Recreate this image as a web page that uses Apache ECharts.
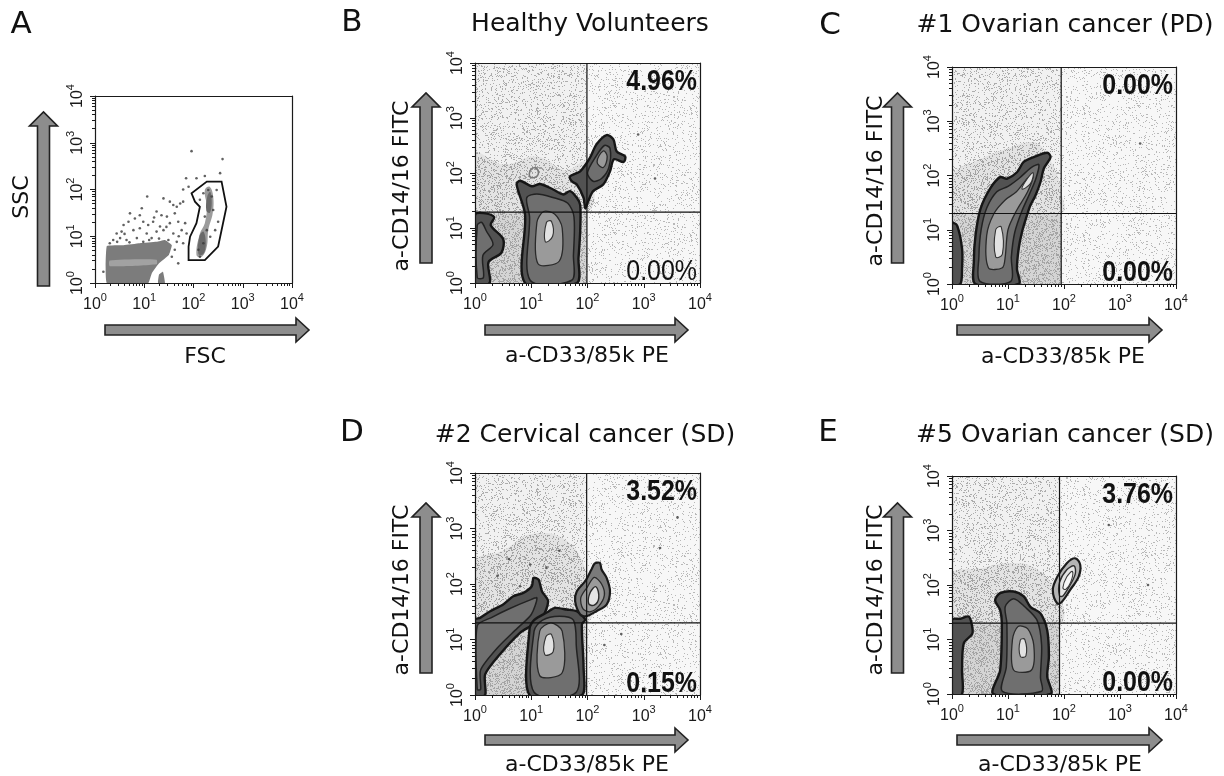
<!DOCTYPE html>
<html><head><meta charset="utf-8">
<script src="https://cdn.jsdelivr.net/npm/echarts@6/dist/echarts.min.js"></script>
<style>html,body{margin:0;padding:0;background:#fff}#c{width:1224px;height:776px}</style>
</head><body><div id="c"></div>
<script>
// All positions below are in log10 units (decades): 0 = 10^0 ... 4 = 10^4
const decades = [0, 1, 2, 3, 4];

// ---------- Panel A : FSC / SSC ----------
const A_cluster = [[0.24,0],[0.24,0.79],[0.58,0.81],[0.91,0.85],[1.25,0.88],[1.42,0.92],[1.56,0.81],[1.5,0.6],[1.3,0.42],[1.15,0.2],[1.08,0]];
const A_clusterBit = [[1.28,0],[1.3,0.18],[1.38,0.24],[1.42,0]];
const A_clusterBand = [[0.3,0.36],[1.25,0.4],[1.25,0.5],[0.3,0.48]];
const A_gate = [[1.90,0.49],[2.23,0.49],[2.50,0.78],[2.67,1.63],[2.57,2.17],[2.27,2.17],[1.96,1.92],[2.03,1.74],[2.13,1.63],[2.06,1.28],[1.93,0.99],[1.90,0.78]];
const A_gated = [[2.06,0.60],[2.13,1.06],[2.23,1.28],[2.27,1.63],[2.23,1.99],[2.33,2.06],[2.40,1.85],[2.39,1.49],[2.30,1.13],[2.27,0.78],[2.17,0.56]];
const A_gatedCore = [[2.10,0.62],[2.12,1.0],[2.2,1.1],[2.25,0.85],[2.2,0.62]];
const A_gatedCore2 = [[2.26,1.55],[2.28,1.85],[2.34,1.95],[2.37,1.7],[2.33,1.5]];
const A_dots = [[1.96,2.82],[2.59,2.65],[1.85,2.24],[2.06,2.24],[2.23,2.29],[2.54,2.35],[1.79,2.00],[1.90,2.06],[1.06,1.85],[1.39,1.81],[1.52,1.74],[1.59,1.67],[1.66,1.63],[1.73,1.70],[1.79,1.74],[0.71,1.49],[0.91,1.45],[0.81,1.38],[1.25,1.53],[1.35,1.45],[1.46,1.42],[1.62,1.49],[0.58,1.24],[0.68,1.31],[0.98,1.31],[1.08,1.24],[1.18,1.31],[1.32,1.21],[1.52,1.28],[1.69,1.31],[1.83,1.28],[0.44,1.06],[0.54,1.10],[0.78,1.13],[0.91,1.17],[1.05,1.06],[1.25,1.10],[1.39,1.13],[1.59,1.06],[1.76,1.13],[1.86,1.06],[0.37,0.92],[0.51,0.96],[0.64,0.92],[0.85,0.96],[0.98,0.88],[1.15,0.96],[1.49,0.92],[1.66,0.88],[1.79,0.85],[1.69,0.42],[1.56,0.56],[1.62,0.71],[0.17,0.24],[2.13,1.78],[2.30,1.99],[2.37,1.85],[2.23,1.42],[2.40,1.56],[2.27,1.13],[2.34,0.99],[2.20,0.85],[2.10,0.71],[2.47,1.99],[2.50,1.31],[2.20,1.92],[2.44,1.13],[2.13,0.56],[0.3,0.85],[0.45,0.88],[0.7,0.87],[1.1,0.92],[1.3,0.95],[1.7,1.0],[1.45,1.2],[1.2,1.4],[0.95,1.6],[0.6,1.05]];

// ---------- Panel B : Healthy Volunteers ----------
const B_quad = [1.99, 1.29];
const B_pct = ['4.96%', '0.00%'];
const B_cloud = [[0,1.29],[1.99,1.29],[1.99,2.2],[1.6,2.05],[1.1,2.3],[0.5,2.15],[0,2.35]];
const B_left = [[0,0],[0.26,0],[0.24,0.38],[0.47,0.55],[0.5,0.8],[0.28,1.05],[0.34,1.2],[0.15,1.27],[0,1.24]];
const B_leftIn = [[0.04,0.1],[0.15,0.1],[0.14,0.5],[0.32,0.7],[0.2,0.95],[0.12,1.1],[0.04,1.05]];
const B_main = [[0.89,0],[0.89,1.24],[0.74,1.79],[0.80,1.86],[1.01,1.76],[1.16,1.80],[1.39,1.70],[1.57,1.61],[1.69,1.67],[1.81,1.55],[1.87,1.42],[1.87,0.94],[1.84,0.45],[1.81,0]];
const B_mainMid = [[0.98,0.05],[0.97,1.2],[0.92,1.55],[1.1,1.62],[1.4,1.55],[1.65,1.45],[1.76,1.2],[1.75,0.5],[1.72,0.05]];
const B_mainIn = [[1.12,0.35],[1.1,1.1],[1.22,1.3],[1.42,1.25],[1.55,1.0],[1.5,0.4]];
const B_mainCore = [[1.25,0.75],[1.27,1.1],[1.36,1.12],[1.38,0.85]];
const B_up = [[1.69,1.94],[1.87,2.03],[2.04,2.27],[2.16,2.52],[2.34,2.69],[2.46,2.61],[2.52,2.39],[2.67,2.30],[2.64,2.2],[2.47,2.25],[2.40,2.03],[2.28,1.79],[2.10,1.67],[2.01,1.48],[1.96,1.36],[1.93,1.55],[1.81,1.79],[1.72,1.85]];
const B_upMid = [[2.0,2.0],[2.15,2.3],[2.3,2.5],[2.4,2.45],[2.38,2.1],[2.25,1.9],[2.1,1.85]];
const B_upIn = [[2.17,2.2],[2.28,2.4],[2.35,2.3],[2.28,2.1]];
const B_blob = [[0.98,1.93],[1.0,2.07],[1.1,2.08],[1.11,1.95]];
const B_dots = [[2.9,2.7],[3.2,1.9]];

// ---------- Panel C : #1 Ovarian cancer (PD) ----------
const C_quad = [1.95, 1.30];
const C_pct = ['0.00%', '0.00%'];
const C_cloud = [[0,1.3],[1.95,1.3],[1.95,1.7],[1.8,2.2],[1.5,2.6],[1.0,2.5],[0.5,2.3],[0,2.0]];
const C_left = [[0,0],[0.15,0],[0.18,0.3],[0.18,0.65],[0.09,1.08],[0,1.12]];
const C_main = [[0.42,0],[0.39,0.41],[0.42,0.90],[0.51,1.39],[0.68,1.76],[0.86,1.97],[0.98,1.94],[1.16,2.06],[1.28,2.25],[1.46,2.34],[1.70,2.42],[1.76,2.34],[1.64,2.13],[1.58,1.88],[1.49,1.63],[1.40,1.45],[1.34,1.27],[1.25,0.96],[1.19,0.65],[1.16,0.28],[1.19,0]];
const C_mainMid = [[0.5,0.05],[0.48,0.5],[0.52,1.0],[0.62,1.4],[0.8,1.7],[1.0,1.8],[1.2,1.95],[1.42,2.15],[1.55,2.2],[1.5,1.95],[1.38,1.65],[1.25,1.35],[1.12,0.95],[1.06,0.5],[1.05,0.05]];
const C_mainIn = [[0.65,0.3],[0.62,0.9],[0.75,1.3],[0.95,1.55],[1.15,1.7],[1.35,1.95],[1.45,2.0],[1.35,1.7],[1.15,1.35],[1.0,1.0],[0.95,0.5],[0.9,0.3]];
const C_core1 = [[0.78,0.5],[0.78,1.0],[0.88,1.05],[0.9,0.55]];
const C_core2 = [[1.25,1.75],[1.35,1.95],[1.45,2.05],[1.4,1.85]];
const C_dots = [[3.36,2.59]];

// ---------- Panel D : #2 Cervical cancer (SD) ----------
const D_quad = [1.985, 1.30];
const D_pct = ['3.52%', '0.15%'];
const D_cloud = [[0,1.3],[1.98,1.3],[1.98,2.2],[1.6,2.8],[1.0,2.9],[0.5,2.6],[0,2.4]];
const D_wedge = [[0,0],[0.18,0],[0.18,0.37],[0.44,0.73],[0.80,1.12],[1.0,1.25],[1.2,1.4],[1.3,1.69],[1.19,1.87],[1.13,2.08],[1.04,2.11],[1.01,1.96],[0.86,1.84],[0.68,1.78],[0.50,1.63],[0.27,1.51],[0.09,1.39],[0,1.36]];
const D_wedgeMid = [[0.04,0.1],[0.1,0.1],[0.1,0.45],[0.4,0.85],[0.75,1.2],[1.0,1.45],[1.1,1.75],[0.95,1.7],[0.6,1.55],[0.3,1.4],[0.04,1.25]];
const D_main = [[0.97,0],[0.97,1.2],[1.05,1.35],[1.3,1.5],[1.42,1.57],[1.63,1.54],[1.81,1.51],[1.96,1.36],[1.90,1.27],[1.93,0.49],[1.90,0]];
const D_mainMid = [[1.05,0.05],[1.05,1.15],[1.2,1.35],[1.5,1.42],[1.75,1.35],[1.8,0.9],[1.8,0.05]];
const D_mainIn = [[1.15,0.35],[1.15,1.15],[1.35,1.3],[1.55,1.15],[1.55,0.4]];
const D_mainCore = [[1.24,0.73],[1.26,1.05],[1.36,1.09],[1.39,0.78]];
const D_up = [[1.87,1.45],[1.78,1.69],[1.81,1.87],[1.96,2.05],[2.07,2.26],[2.13,2.37],[2.22,2.38],[2.25,2.26],[2.34,2.11],[2.40,1.87],[2.34,1.63],[2.16,1.51],[1.98,1.42]];
const D_upMid = [[1.92,1.55],[1.88,1.75],[2.0,1.95],[2.12,2.12],[2.25,2.0],[2.3,1.8],[2.2,1.6],[2.05,1.5]];
const D_upIn = [[2.02,1.65],[2.05,1.85],[2.15,1.95],[2.2,1.75],[2.12,1.62]];
const D_dots = [[0.98,2.35],[1.27,2.29],[0.80,1.96],[0.6,2.45],[1.5,2.6],[3.29,2.65],[3.6,3.2],[2.6,1.1],[2.3,0.9],[0.4,2.15]];

// ---------- Panel E : #5 Ovarian cancer (SD) ----------
const E_quad = [1.92, 1.30];
const E_pct = ['3.76%', '0.00%'];
const E_cloud = [[0,1.3],[1.92,1.3],[1.92,1.8],[1.5,2.3],[1.0,2.4],[0.5,2.3],[0,2.2]];
const E_left = [[0,0],[0.18,0],[0.18,0.44],[0.21,0.93],[0.36,1.1],[0.36,1.24],[0.3,1.42],[0.15,1.38],[0,1.36]];
const E_main = [[0.74,0],[0.86,0.44],[0.89,1.30],[0.86,1.54],[0.77,1.72],[0.86,1.85],[1.10,1.88],[1.28,1.79],[1.40,1.60],[1.58,1.48],[1.70,1.17],[1.73,0.69],[1.70,0.32],[1.76,0]];
const E_mainMid = [[0.9,0.05],[0.97,0.5],[0.98,1.3],[0.95,1.6],[1.1,1.75],[1.3,1.6],[1.52,1.35],[1.6,0.9],[1.58,0.3],[1.6,0.05]];
const E_mainIn = [[1.10,0.44],[1.08,1.0],[1.18,1.24],[1.35,1.2],[1.46,0.9],[1.42,0.44]];
const E_mainCore = [[1.22,0.69],[1.22,0.99],[1.3,1.0],[1.32,0.7]];
const E_up = [[1.88,1.66],[1.80,1.91],[1.88,2.15],[2.05,2.40],[2.20,2.49],[2.29,2.37],[2.26,2.15],[2.11,1.91],[1.96,1.69]];
const E_upMid = [[1.92,1.8],[1.92,2.05],[2.05,2.28],[2.18,2.35],[2.2,2.2],[2.08,1.95],[1.98,1.8]];
const E_upIn = [[1.98,1.95],[2.05,2.15],[2.15,2.25],[2.12,2.05],[2.03,1.92]];
const E_dots = [[3.5,2.0],[2.8,3.1]];

// ---------- text ----------
const letters = ['A','B','C','D','E'];
const titles = ['', 'Healthy Volunteers', '#1 Ovarian cancer (PD)', '#2 Cervical cancer (SD)', '#5 Ovarian cancer (SD)'];
const xNames = ['FSC', 'a-CD33/85k PE', 'a-CD33/85k PE', 'a-CD33/85k PE', 'a-CD33/85k PE'];
const yNames = ['SSC', 'a-CD14/16 FITC', 'a-CD14/16 FITC', 'a-CD14/16 FITC', 'a-CD14/16 FITC'];

// ======================= rendering ===========================
// deterministic speckle texture (style only, mimics the printed dot-plot background)
function hash(x, y) {
  let h = (Math.imul(x, 374761393) + Math.imul(y, 668265263)) | 0;
  h = Math.imul(h ^ (h >>> 13), 1274126177);
  return ((h ^ (h >>> 16)) >>> 0) / 4294967296;
}
function speckle(base, dot, density, seed) {
  const c = document.createElement('canvas'); c.width = 131; c.height = 127;
  const ctx = c.getContext('2d');
  ctx.fillStyle = base; ctx.fillRect(0, 0, c.width, c.height);
  ctx.fillStyle = dot;
  for (let y = 0; y < c.height; y++) for (let x = 0; x < c.width; x++)
    if (hash(x + seed, y + 3 * seed) < density) ctx.fillRect(x, y, 1, 1);
  return {image: c, repeat: 'repeat'};
}
const STY = {
  bg:    {fill: speckle('#f7f7f7', '#b8b8b8', 0.09, 11)},
  ul:    {fill: speckle('#f1f1f1', '#acacac', 0.15, 29)},
  cloud: {fill: speckle('#e3e3e3', '#a2a2a2', 0.25, 47)},
  ll:    {fill: speckle('#d4d4d4', '#a4a4a4', 0.32, 71)},
  outer: {fill:'#525252', stroke:'#161616', lineWidth:2.4},
  mid:   {fill:'#6f6f6f', stroke:'#222222', lineWidth:1.5},
  inner: {fill:'#9a9a9a', stroke:'#2a2a2a', lineWidth:1.3},
  core:  {fill:'#e2e2e2', stroke:'#333333', lineWidth:1.1},
  ring:  {fill:'none', stroke:'#7a7a7a', lineWidth:1.6},
  gOuter:{fill:'#7a7a7a', stroke:'#1a1a1a', lineWidth:2.2},
  lOuter:{fill:'#b4b4b4', stroke:'#1c1c1c', lineWidth:2.2},
  lMid:  {fill:'#e4e4e4', stroke:'#2c2c2c', lineWidth:1.4},
  lIn:   {fill:'#f6f6f6', stroke:'#3a3a3a', lineWidth:1.1},
  cluster: {fill:'#7c7c7c'},
  band:  {fill:'#a2a2a2'},
  gated: {fill:'#9c9c9c'},
  gcore: {fill:'#6a6a6a'},
  gate:  {fill:'none', stroke:'#111', lineWidth:1.8}
};
function quadRect(q, which){
  return which === 'll' ? [[0,0],[q[0],0],[q[0],q[1]],[0,q[1]]] : [[0,q[1]],[q[0],q[1]],[q[0],4],[0,4]];
}
const FULL = [[0,0],[4,0],[4,4],[0,4]];
const panels = [
  {grid:{left:95, top:96, width:197, height:187}, bg:'#ffffff',
   layers:[['cluster',A_cluster,0.1],['cluster',A_clusterBit,0.1],['band',A_clusterBand,0.2],['gated',A_gated,0.4],['gcore',A_gatedCore,0.4],['gcore',A_gatedCore2,0.4],['gate',A_gate,0]],
   dots:A_dots},
  {grid:{left:475, top:63, width:225, height:220}, bg:'#ebebeb', quad:B_quad, pct:B_pct, botBold:false,
   layers:[['bg',FULL,0],['ul',quadRect(B_quad,'ul'),0],['cloud',B_cloud,0.4],['ll',quadRect(B_quad,'ll'),0],
           ['outer',B_left,0.3],['mid',B_leftIn,0.3],
           ['outer',B_main,0.3],['mid',B_mainMid,0.3],['inner',B_mainIn,0.3],['core',B_mainCore,0.4],
           ['outer',B_up,0.3],['mid',B_upMid,0.3],['inner',B_upIn,0.4],['ring',B_blob,0.5]],
   dots:B_dots},
  {grid:{left:952, top:67, width:224, height:217}, bg:'#ebebeb', quad:C_quad, pct:C_pct, botBold:true,
   layers:[['bg',FULL,0],['ul',quadRect(C_quad,'ul'),0],['cloud',C_cloud,0.4],['ll',quadRect(C_quad,'ll'),0],
           ['outer',C_left,0.3],
           ['outer',C_main,0.3],['mid',C_mainMid,0.3],['inner',C_mainIn,0.3],['core',C_core1,0.4],['core',C_core2,0.4]],
   dots:C_dots},
  {grid:{left:475, top:473, width:225, height:222}, bg:'#ebebeb', quad:D_quad, pct:D_pct, botBold:true,
   layers:[['bg',FULL,0],['ul',quadRect(D_quad,'ul'),0],['cloud',D_cloud,0.4],['ll',quadRect(D_quad,'ll'),0],
           ['outer',D_wedge,0.25],['mid',D_wedgeMid,0.25],
           ['outer',D_main,0.25],['mid',D_mainMid,0.3],['inner',D_mainIn,0.3],['core',D_mainCore,0.4],
           ['gOuter',D_up,0.3],['inner',D_upMid,0.3],['lMid',D_upIn,0.4]],
   dots:D_dots},
  {grid:{left:952, top:476, width:224, height:218}, bg:'#ebebeb', quad:E_quad, pct:E_pct, botBold:true,
   layers:[['bg',FULL,0],['ul',quadRect(E_quad,'ul'),0],['cloud',E_cloud,0.4],['ll',quadRect(E_quad,'ll'),0],
           ['outer',E_left,0.3],
           ['outer',E_main,0.3],['mid',E_mainMid,0.3],['inner',E_mainIn,0.3],['core',E_mainCore,0.4],
           ['lOuter',E_up,0.35],['lMid',E_upMid,0.35],['lIn',E_upIn,0.4]],
   dots:E_dots}
];

const MINOR_TICKS = [];
for (let d = 0; d < 4; d++) for (let k = 2; k <= 9; k++) MINOR_TICKS.push(d + Math.log10(k));

const INK = '#1a1a1a';
const rich = {
  b: {fontSize:16, fontFamily:'Liberation Sans', color:INK, lineHeight:21, verticalAlign:'bottom'},
  s: {fontSize:11, fontFamily:'Liberation Sans', color:INK, lineHeight:12, verticalAlign:'top'}
};
const fmt = v => '{b|10}{s|' + Math.round(v) + '}';

const grids = [], xAxes = [], yAxes = [], series = [];
panels.forEach((P, gi) => {
  grids.push(Object.assign({show:true, backgroundColor:P.bg, borderWidth:0, containLabel:false, outerBoundsMode:'none'}, P.grid));
  ['x','y'].forEach(dim => {
    const isX = dim === 'x';
    const base = {gridIndex:gi, type:'value', min:0, max:4, z:10, splitLine:{show:false}};
    const list = isX ? xAxes : yAxes;
    list.push(Object.assign({}, base, {position:isX?'bottom':'left', axisLine:{show:false, onZero:false},
      axisTick:{show:true, customValues:MINOR_TICKS, length:3, lineStyle:{color:INK}}, axisLabel:{show:false}}));
    list.push(Object.assign({}, base, {interval:1, position:isX?'bottom':'left',
      axisLine:{show:true, onZero:false, lineStyle:{color:INK, width:1.2}},
      axisTick:{show:true, length:5, lineStyle:{color:INK}},
      axisLabel: isX ? {formatter:fmt, rich, margin:9, showMinLabel:true, showMaxLabel:true}
                     : {formatter:fmt, rich, margin:9, rotate:90, showMinLabel:true, showMaxLabel:true}}));
    list.push(Object.assign({}, base, {position:isX?'top':'right',
      axisLine:{show:true, onZero:false, lineStyle:{color:INK, width:1.2}},
      axisTick:{show:false}, axisLabel:{show:false}}));
  });
  const ax = gi*3+1;
  const layers = P.layers;
  series.push({type:'custom', xAxisIndex:ax, yAxisIndex:ax, clip:true, silent:true, z:3,
    data: layers.map((_, k) => [k]),
    renderItem: (params, api) => {
      const L = layers[params.dataIndex];
      const pts = L[1].map(p => api.coord(p));
      return {type:'polygon', shape:{points:pts, smooth:L[2]}, style:Object.assign({}, STY[L[0]])};
    }});
  if (P.dots && P.dots.length) {
    series.push({type:'scatter', xAxisIndex:ax, yAxisIndex:ax, silent:true, z:4,
      data:P.dots, symbolSize:2.6, itemStyle:{color:'#3a3a3a'}});
  }
  if (P.quad) {
    series.push({type:'custom', xAxisIndex:ax, yAxisIndex:ax, clip:false, silent:true, z:12,
      data:[[0],[1],[2],[3]],
      renderItem: (params, api) => {
        const k = params.dataIndex;
        if (k === 0) {
          const a = api.coord([P.quad[0],0]), b = api.coord([P.quad[0],4]);
          return {type:'line', shape:{x1:a[0],y1:a[1],x2:b[0],y2:b[1]}, style:{stroke:'#111', lineWidth:1.2}};
        }
        if (k === 1) {
          const a = api.coord([0,P.quad[1]]), b = api.coord([4,P.quad[1]]);
          return {type:'line', shape:{x1:a[0],y1:a[1],x2:b[0],y2:b[1]}, style:{stroke:'#111', lineWidth:1.2}};
        }
        const top = k === 2;
        const c = api.coord([4, top ? 4 : 0]);
        const bold = top || P.botBold;
        return {type:'text', x:c[0]-3, y: top ? c[1]+4 : c[1]+3, scaleX:0.86,
          style:{text: P.pct[top?0:1], align:'right', verticalAlign: top ? 'top' : 'bottom',
            fill:'#111', font: (bold ? 'bold ' : '') + '29px "Liberation Sans", Arial, sans-serif'}};
      }});
  }
});

// ---------- layout-only graphics (labels and arrows) ----------
const FONT = '"DejaVu Sans", sans-serif';
const letterPos = [[21,25],[352,23],[830,26],[352,433],[828,433]];
const titlePos = [null,[590,24],[1065,25],[585,435],[1065,435]];
const xNamePos = [[205,357],[587,356],[1063,357],[587,765],[1060,765]];
const yNamePos = [[22,197],[402,186],[876,181],[402,590],[876,590]];
const vArrows = [[43.5,286,112],[426,263,93],[897.5,263,93],[426,673,503],[897.5,673,503]];
const hArrows = [[105,309,330],[485,688,330],[957,1162,330],[485,688,740],[957,1162,740]];
const graphics = [];
letters.forEach((t,i) => graphics.push({type:'text', x:letterPos[i][0], y:letterPos[i][1], z:100,
  style:{text:t, font:'31px '+FONT, fill:'#111', align:'center', verticalAlign:'middle'}}));
titles.forEach((t,i) => { if (t) graphics.push({type:'text', x:titlePos[i][0], y:titlePos[i][1], z:100,
  style:{text:t, font:'25px '+FONT, fill:'#111', align:'center', verticalAlign:'middle'}}); });
xNames.forEach((t,i) => graphics.push({type:'text', x:xNamePos[i][0], y:xNamePos[i][1], z:100,
  style:{text:t, font:'22px '+FONT, fill:'#111', align:'center', verticalAlign:'middle'}}));
yNames.forEach((t,i) => graphics.push({type:'text', x:yNamePos[i][0], y:yNamePos[i][1], z:100, rotation:Math.PI/2,
  style:{text:t, font:'22px '+FONT, fill:'#111', align:'center', verticalAlign:'middle'}}));
const ARROW = {fill:'#8d8d8d', stroke:'#222', lineWidth:1.6};
vArrows.forEach(([cx, yb, yt]) => {
  const hw = 6, hh = 14, hb = 14;
  graphics.push({type:'polygon', z:100, shape:{points:[[cx-hw,yb],[cx+hw,yb],[cx+hw,yt+hb],[cx+hh,yt+hb],[cx,yt],[cx-hh,yt+hb],[cx-hw,yt+hb]]}, style:ARROW});
});
hArrows.forEach(([xl, xt, cy]) => {
  const hw = 5, hh = 12, hb = 13;
  graphics.push({type:'polygon', z:100, shape:{points:[[xl,cy-hw],[xt-hb,cy-hw],[xt-hb,cy-hh],[xt,cy],[xt-hb,cy+hh],[xt-hb,cy+hw],[xl,cy+hw]]}, style:ARROW});
});

const chart = echarts.init(document.getElementById('c'), null, {renderer:'canvas'});
chart.setOption({
  animation:false,
  backgroundColor:'#ffffff',
  grid:grids, xAxis:xAxes, yAxis:yAxes, series:series, graphic:graphics
});
</script></body></html>
